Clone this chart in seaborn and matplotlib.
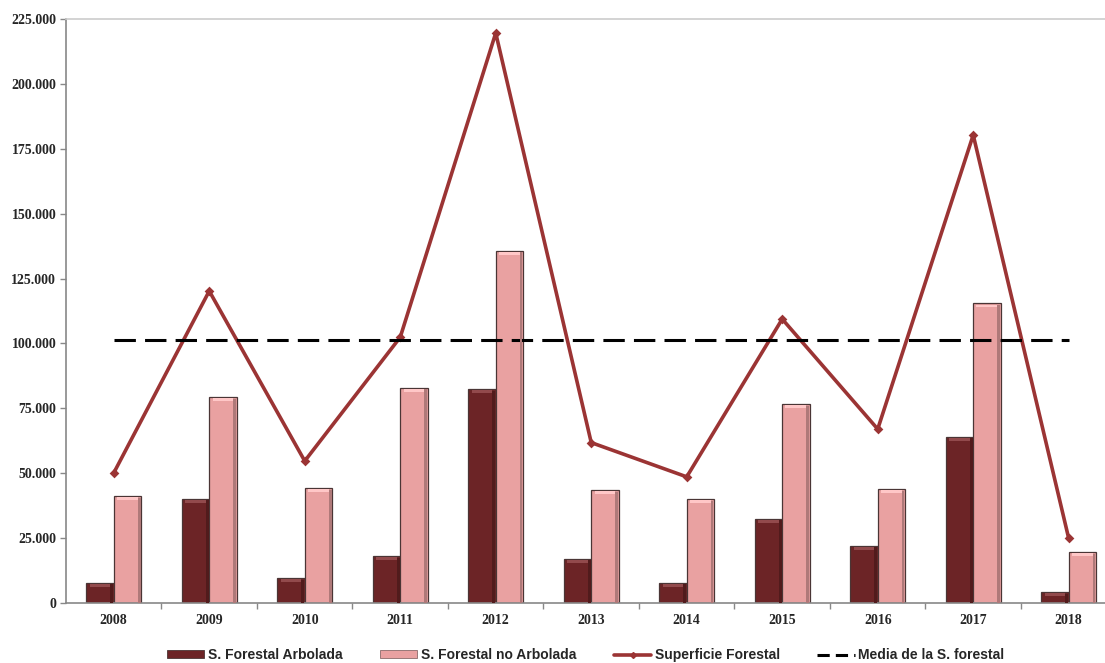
import numpy as np
import pandas as pd
import matplotlib
matplotlib.use("Agg")
import matplotlib.pyplot as plt
import seaborn as sns
from matplotlib.ticker import FuncFormatter, FixedLocator
from matplotlib.patches import Rectangle
from matplotlib.lines import Line2D

# datos (ha)
years = ['2008', '2009', '2010', '2011', '2012', '2013', '2014', '2015', '2016', '2017', '2018']
arbolada = [7800, 40100, 9600, 18100, 82400, 17100, 7800, 32400, 22100, 64100, 4100]
no_arbolada = [41200, 79300, 44300, 82900, 135700, 43500, 40000, 76500, 43900, 115400, 19500]
superficie = [50100, 120200, 54700, 102400, 219600, 61800, 48600, 109400, 67000, 180300, 24900]
media = [101500] * len(years)

series_names = ['S. Forestal Arbolada', 'S. Forestal no Arbolada', 'Superficie Forestal', 'Media de la S. forestal']
col_dark = '#6c2426'
col_light = '#e9a1a1'
col_line = '#9b3434'

df = pd.DataFrame({
    'year': years * 2,
    'serie': [series_names[0]] * len(years) + [series_names[1]] * len(years),
    'valor': arbolada + no_arbolada,
})

sns.set_style('white')
plt.rcParams['font.family'] = ['Liberation Serif', 'DejaVu Serif']

fig = plt.figure(figsize=(11.05, 6.63), dpi=100)
ax = fig.add_axes([66 / 1105, 60 / 663, 1 - 66 / 1105, 584 / 663])

sns.barplot(data=df, x='year', y='valor', hue='serie', order=years,
            palette=[col_dark, col_light], saturation=1, width=0.572, ax=ax,
            edgecolor='#4a3535', linewidth=0.9, legend=False)

# bisel: franja clara arriba y sombra a la derecha de cada barra
for p in list(ax.patches):
    h = p.get_height()
    if h <= 0:
        continue
    fc = p.get_facecolor()
    cap = tuple(min(1, c + 0.15) for c in fc[:3])
    shade = tuple(c * 0.75 for c in fc[:3])
    w = p.get_width()
    ax.add_patch(Rectangle((p.get_x() + w * 0.12, h - 1500), w * 0.76, 1100,
                           facecolor=cap, edgecolor='none', zorder=3))
    ax.add_patch(Rectangle((p.get_x() + w * 0.88, 0), w * 0.1, h - 600,
                           facecolor=shade, edgecolor='none', zorder=3))

# superficie forestal total
sns.pointplot(x=years, y=superficie, order=years, color=col_line,
              markers='D', markersize=3, linewidth=2.6, ax=ax, errorbar=None)

# media
sns.pointplot(x=years, y=media, order=years, color='black',
              markers='', linewidth=2.2, linestyles='--', ax=ax, errorbar=None)
ax.lines[-1].set_dashes((7, 3))

ax.set_xlim(-0.5, 10.38)
ax.set_ylim(0, 225000)
ax.set_yticks(np.arange(0, 225001, 25000))
ax.yaxis.set_major_formatter(FuncFormatter(lambda v, p: f'{v:,.0f}'.replace(',', '.')))
ax.set_xlabel('')
ax.set_ylabel('')

ax.xaxis.set_minor_locator(FixedLocator(np.arange(0.5, 10, 1)))
ax.tick_params(axis='x', which='major', length=0, labelsize=10, pad=8)
ax.tick_params(axis='x', which='minor', length=4, color='#888888', width=1, direction='out')
ax.tick_params(axis='y', length=4, color='#888888', width=1, labelsize=10, pad=3, direction='out')
ax.tick_params(axis='both', bottom=True, left=True, which='both')
ax.tick_params(axis='x', which='major', bottom=False)
for lab in ax.get_xticklabels() + ax.get_yticklabels():
    lab.set_fontweight('bold')

for side in ['left', 'bottom']:
    ax.spines[side].set_color('#888888')
    ax.spines[side].set_linewidth(1.2)
ax.spines['top'].set_color('#cccccc')
ax.spines['top'].set_linewidth(1.2)
ax.spines['right'].set_visible(False)

handles = [
    Rectangle((0, 0), 1, 1, facecolor=col_dark, edgecolor='#4a3535', linewidth=0.6),
    Rectangle((0, 0), 1, 1, facecolor=col_light, edgecolor='#8a6a6a', linewidth=0.6),
    Line2D([], [], color=col_line, lw=2.6, marker='D', markersize=3),
    Line2D([], [], color='black', lw=2.2, dashes=(4, 2)),
]
leg = fig.legend(handles, series_names, loc='center', bbox_to_anchor=(0.53, 0.012),
                 ncol=4, frameon=False, handlelength=2.7, handleheight=0.45,
                 handletextpad=0.25, columnspacing=2.7,
                 prop={'family': ['Liberation Sans Narrow', 'Liberation Sans', 'DejaVu Sans'],
                       'weight': 'bold', 'size': 10})

fig.savefig('out.png', dpi=100)
